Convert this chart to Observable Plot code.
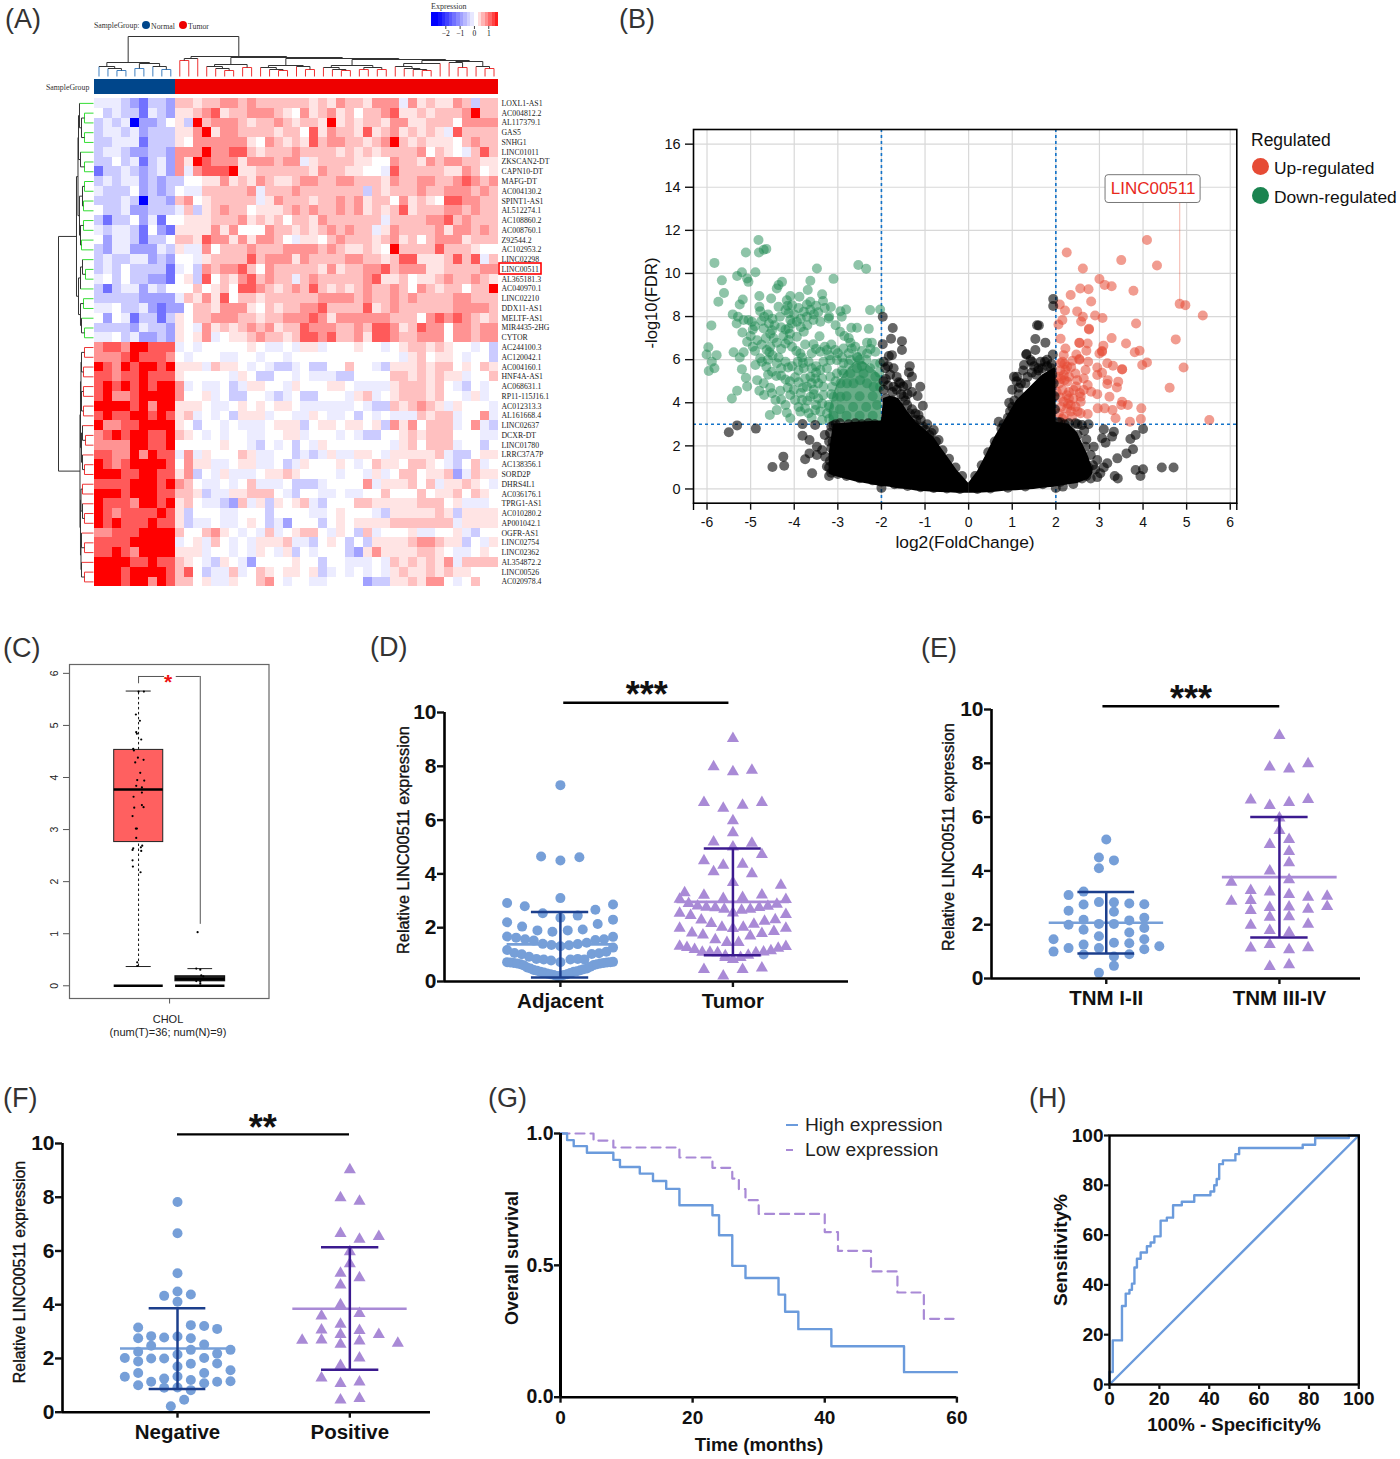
<!DOCTYPE html>
<html><head><meta charset="utf-8">
<script src="https://cdn.jsdelivr.net/npm/d3@7"></script>
<script src="https://cdn.jsdelivr.net/npm/@observablehq/plot@0.6"></script>
<style>
html,body{margin:0;padding:0;background:#fff}
#root{position:relative;width:1400px;height:1459px;background:#fff;overflow:hidden;font-family:"Liberation Sans",Arial,sans-serif;color:#111}
.lb{position:absolute;white-space:nowrap;line-height:1}
svg{display:block}
</style></head><body><div id="root"></div>
<script>
// ---------- (A) heatmap ----------
const rowNames=["LOXL1-AS1","AC004812.2","AL117379.1","GAS5","SNHG1","LINC01011","ZKSCAN2-DT","CAPN10-DT","MAFG-DT","AC004130.2","SPINT1-AS1","AL512274.1","AC108860.2","AC008760.1","Z92544.2","AC102953.2","LINC02298","LINC00511","AL365181.3","AC040970.1","LINC02210","DDX11-AS1","MELTF-AS1","MIR4435-2HG","CYTOR","AC244100.3","AC120042.1","AC004160.1","HNF4A-AS1","AC068631.1","RP11-115J16.1","AC012313.3","AL161668.4","LINC02637","DCXR-DT","LINC01780","LRRC37A7P","AC138356.1","SORD2P","DHRS4L1","AC036176.1","TPRG1-AS1","AC010280.2","AP001042.1","OGFR-AS1","LINC02754","LINC02362","AL354872.2","LINC00526","AC020978.4"];
const heatLevels={"0":-2.7,"1":-1.5,"2":-1.0,"3":-0.55,"4":-0.2,"5":0,"6":0.18,"7":0.42,"8":0.72,"9":1.1,"x":1.7};
const normalCells=["444321332","534331432","343402235","344342333","334441333","344322332","335341342","133432342","343442323","433352323","333430332","533422333","313352415","434431521","524431335","324422243","343344232","343533331","453533221","313442435","333332222","445334212","525413313","333324332","445342232","8998xx999","8889x9998","x98x9xx9x","99899x999","9x9x9x9xx","9x889xxxx","xxxx9x8xx","9x99xx9x9","x8899xxxx","89x9xx99x","8888xx99x","9988x8x99","x989xxxx9","xxx99xx99","9999xxx9x","xxx9xxx99","x9998xx9x","x989999x9","x9x999x99","88999xxxx","9999xxxxx","99x98xxxx","xxxx99x99","xxx9xxxx9","xxx9xx8x9"];
const tumorCells=[
"776778 878777 777676 877688 848676 687377",
"667896 778887 658678 675778 966767 778x77",
"63x788 876778 76776x 676776 886677 758888",
"668x68 877776 775968 776967 867676 497777",
"658888 886587 676978 877678 x76766 657877",
"888x88 997677 787777 676767 777857 654797",
"86x988 868887 884677 776655 877687 887766",
"848999 x66777 777687 766554 977777 668756",
"355668 676876 678877 887776 877887 789878",
"544777 778477 787777 777376 777877 888787",
"785677 777468 777677 878677 586765 998877",
"473678 775666 787877 878676 796777 887877",
"566677 786767 577687 777774 777788 978777",
"666686 855587 767678 787746 877778 688787",
"776988 686887 546657 877767 867578 886777",
"644857 778777 888878 766765 x77779 777655",
"554677 779788 868777 788776 799666 797947",
"453878 897587 777768 677889 788866 777788",
"563957 689787 747877 777896 675667 877876",
"557567 599876 787976 767877 875876 77577x",
"476869 577677 777788 887877 878777 788777",
"257768 886576 778897 777967 877777 788887",
"657788 877677 888986 888888 777589 898767",
"654867 678786 779888 778799 867988 588788",
"656845 667877 679989 778699 877888 588788",
"454555 556544 546645 556554 567767 655453",
"545554 455455 455555 555555 546756 654553",
"666476 654543 345335 575543 666767 756576",
"655555 465335 545444 335555 776767 664557",
"845445 346655 465556 654444 677767 543545",
"855645 335543 453355 546745 677767 554645",
"666544 565656 654444 445433 767876 465554",
"674545 366645 544654 453545 444767 745584",
"653554 544456 663566 566563 868577 745843",
"765454 554455 664555 454335 567677 755544",
"555556 554354 535465 555555 467577 745535",
"484655 576445 534346 446654 666667 433566",
"586644 566445 346555 654576 657765 435745",
"683546 444566 765555 455464 577566 724766",
"875445 457444 533345 555846 667574 667654",
"776344 667775 435544 544557 555756 675765",
"675443 274636 567435 557766 666777 564445",
"635554 455535 555445 655543 666667 636666",
"634454 456534 255535 656666 777777 746666",
"755786 545474 567754 653745 556445 564355",
"456475 454666 744356 535366 667887 663546",
"666455 454654 635455 532686 666776 544565",
"765436 542555 565535 544454 767676 847777",
"795344 745765 665634 545454 676676 766555",
"775644 655785 455445 555233 667688 545755"];
const sampleGroups=[...Array(9).fill("Normal"),...Array(36).fill("Tumor")];
const legendValues=[-3,-2.75,-2.5,-2.25,-2,-1.75,-1.5,-1.25,-1,-0.75,-0.5,-0.25,0,0.25,0.5,0.75,1,1.25,1.5];
const treeLeftNormal=[14,[10,0,[8,1,[6,2,3]]],[13,[8,4,5],[10,6,[7,7,8]]]];
const treeL1=[12,[10,12,[8,13,[6,14,15]]],[9,16,17]];
const treeL2=[11,[9,18,[7,19,[6,20,21]]],[10,22,[7,23,24]]];
const treeL3=[11,[9,25,[7,26,[6,27,28]]],[9,[7,29,30],[7,31,32]]];
const treeL4=[13,[10,33,[8,34,[7,35,[6,36,37]]]],38];
const treeL5=[15,[14,39,[9,40,41]],[10,42,[8,43,44]]];
const treeTumor=[20,[18,[16,9,10],11],[19,treeL1,[18,treeL2,[17,treeL3,[16,treeL4,treeL5]]]]];
const treeColumns=[40,treeLeftNormal,treeTumor];
const treeRowsTop=[17,[15.5,[15,[14,0,[12,[9,1,2],[9,3,4]]],[13,5,[9,6,7]]],[14,[11,[9,8,9],[10,10,11]],[13,[10,12,13],[12,14,15]]]],[15,[13,[11,16,[8,17,18]],19],[13,[10,20,21],[12,22,[9,23,24]]]]];
const treeRowsBottom=[13.5,[13,[12.5,[12,[9,25,26],[10,27,28]],[12,[10,29,30],[10,31,32]]],[12,[11,33,[8,34,35]],[11,36,[9,37,38]]]],[13,[12.5,[11,39,40],[11,41,[9,42,43]]],[12.5,[12,44,[9,45,46]],[12,47,[9,48,49]]]]];
const treeRows=[35,treeRowsTop,treeRowsBottom];

// ---------- (B) volcano ----------
const downRegulated=[[-5.83,10.49],[-5.66,9.68],[-5.61,9.09],[-5.74,8.69],[-5.9,7.59],[-5.97,6.58],[-6.01,6.24],[-5.78,6.21],[-5.89,5.9],[-5.83,5.6],[-5.96,5.47],[-4.82,11.55],[-4.81,10.97],[-4.64,11.14],[-4.7,11.1],[-5.11,10.97],[-5.2,10.06],[-4.89,10.06],[-5.31,9.88],[-5.08,9.77],[-5.05,9.61],[-5.18,8.79],[-5.25,8.56],[-5.41,8.1],[-5.29,7.99],[-5.32,7.68],[-5.16,7.84],[-5.05,7.84],[-4.97,7.76],[-5.19,7.26],[-5.39,6.34],[-5.16,6.34],[-5.25,6.1],[-5.08,6.83],[-5.2,5.56],[-5.11,5.16],[-5.08,4.76],[-5.31,4.56],[-5.43,4.2],[-4.8,8.95],[-4.8,8.45],[-4.78,8.25],[-4.53,8.84],[-4.4,9.3],[-4.28,9.61],[-4.36,9.46],[-4.69,7.99],[-4.36,8.45],[-4.17,8.76],[-4.09,8.95],[-3.88,8.92],[-3.63,9.66],[-3.69,9.23],[-3.48,10.23],[-3.1,9.75],[-3.36,9.03],[-3.34,8.72],[-3.63,8.69],[-3.71,8.56],[-4.05,8.53],[-3.16,8.44],[-2.94,8.25],[-2.81,8.33],[-2.91,7.99],[-2.26,8.3],[-2.03,8.33],[-2.53,10.39],[-2.35,10.22],[-2.29,7.43],[-2.56,7.48],[-2.69,7.48],[-3.63,8.3],[-3.56,7.84],[-3.4,7.76],[-3.21,7.91],[-4.13,8.15],[-4.09,7.84],[-3.78,8.22],[-3.71,7.99],[-4.2,7.4],[-4.13,7.45],[-4.05,7.68],[-3.94,7.76],[-3.78,7.3],[-3.94,7.06],[-4.13,6.91],[-4.33,7.99],[-4.58,7.68],[-4.7,7.45],[-4.51,7.37],[-4.47,6.99],[-4.4,6.79],[-4.63,6.45],[-4.57,6.34],[-4.78,6.06],[-4.74,5.9],[-4.89,5.75],[-4.64,5.67],[-4.51,5.44],[-4.36,6.1],[-4.4,5.83],[-4.41,5.24],[-4.2,5.08],[-4.14,5.64],[-3.98,5.18],[-4.09,4.36],[-4.01,4.59],[-4.32,4.56],[-4.51,4.44],[-4.69,4.36],[-4.8,4.56],[-4.85,5.05],[-4.43,4.13],[-4.56,3.43],[-4.4,3.66],[-4.17,3.54],[-4.09,3.28],[-3.86,3.59],[-3.67,3.51],[-3.52,3.66],[-3.36,3.2],[-3.86,6.29],[-3.82,6.1],[-3.92,5.9],[-3.78,5.6],[-3.67,5.9],[-3.75,5.13],[-3.63,5.21],[-3.71,4.74],[-3.52,5.13],[-3.98,4.13],[-3.82,4.13],[-3.63,4.28],[-3.42,7.09],[-3.56,6.72],[-3.4,6.37],[-3.25,6.45],[-3.06,6.45],[-2.87,6.52],[-2.71,6.79],[-2.68,6.52],[-2.33,6.79],[-2.22,6.79],[-2.33,6.29],[-2.14,6.37],[-2.56,6.14],[-2.03,5.83],[-3.4,5.52],[-3.25,5.6],[-3.36,5.13],[-3.17,5.21],[-3.33,4.74],[-3.13,4.74],[-3.02,5.98],[-3.17,5.98],[-3.33,5.9],[-2.87,5.83],[-2.71,5.98],[-2.56,5.6],[-3.02,5.36],[-2.87,5.36],[-2.71,5.36],[-2.41,5.36],[-2.26,5.6],[-2.14,5.21],[-2.94,4.9],[-2.79,4.9],[-2.64,4.9],[-2.49,5.05],[-2.33,4.9],[-2.18,4.74],[-2.03,4.74],[-3.36,3.97],[-3.21,3.9],[-3.33,4.36],[-3.1,4.28],[-2.94,4.28],[-2.5,6.0],[-2.45,5.7],[-3.5,5.7],[-3.2,6.2],[-2.9,6.1],[-3.45,4.9],[-3.55,4.6],[-3.25,3.5],
[-4.6,8.1],[-4.5,7.9],[-4.55,7.2],[-4.45,7.6],[-4.3,7.5],[-4.25,7.1],[-4.2,8.3],[-4.15,8.5],[-4.1,7.2],[-4.0,8.1],[-3.9,8.4],[-3.85,7.9],[-3.85,7.5],[-3.7,7.6],[-3.55,8.1],[-3.5,8.5],[-3.45,8.2],[-3.3,8.4],[-3.2,8.0],[-3.05,7.6],[-2.95,7.3],[-2.85,7.1],[-2.75,7.0],[-4.65,7.0],[-4.75,6.7],[-4.55,6.6],[-4.3,6.5],[-4.2,6.75],[-4.05,6.6],[-3.95,6.4],[-3.75,6.7],[-3.6,6.3],[-3.5,6.5],[-3.3,6.6],[-3.15,6.7],[-3,6.3],[-2.75,6.3],[-2.6,6.6],[-2.45,6.4],[-2.25,6.5],[-4.6,6.0],[-4.5,6.2],[-4.3,5.6],[-4.2,5.9],[-4.05,5.7],[-3.9,5.5],[-3.8,5.85],[-3.6,5.6],[-3.5,5.4],[-4.6,5.3],[-4.3,5.25],[-4.1,5.0],[-3.9,4.95],[-3.8,4.7],[-3.6,4.9],[-3.55,4.4],[-3.85,4.45],[-4.15,4.7],[-3.7,4.1],[-3.45,4.2],[-3.5,3.9],[-3.9,3.8],[-4.2,3.9],[-4.3,4.15],[-3.75,3.75],[-3.4,3.6],[-3.6,3.3],[-3.2,3.25],[-4.55,4.7],[-4.7,4.9],[-4.95,6.6],[-4.9,6.4],[-4.85,6.9],[-4.75,7.8],[-4.95,7.4],[-5.0,7.1],[-4.9,7.55],
[-3.15,4.4],[-3.05,5.0],[-2.9,5.5],[-2.75,5.8],[-2.55,6.1],[-2.35,6.0],[-2.15,5.8],[-2.05,5.4],[-3.2,3.8],[-3.1,3.4],[-2.8,3.4],[-2.5,3.4],[-2.2,3.4],[-2.95,3.7],[-2.65,3.8],[-2.35,3.8],[-2.1,3.9],[-2.8,4.3],[-2.5,4.3],[-2.2,4.3]];
const upRegulated=[[4.09,11.55],[2.25,10.97],[3.5,10.62],[4.32,10.37],[2.62,10.23],[3.0,9.74],[3.12,9.47],[3.28,9.41],[2.56,9.3],[2.75,9.27],[3.78,9.2],[2.34,9.0],[2.81,8.7],[2.09,8.56],[4.84,8.59],[4.97,8.53],[2.21,8.28],[2.49,8.24],[2.62,7.99],[2.9,8.05],[3.07,7.93],[5.37,8.05],[2.15,7.84],[2.58,7.77],[2.06,7.63],[3.84,7.68],[2.76,7.43],[2.76,7.4],[2.11,6.97],[3.28,7.0],[4.75,6.94],[2.54,6.79],[2.54,6.77],[2.73,6.75],[3.61,6.75],[3.09,6.65],[2.22,6.52],[2.7,6.41],[3.06,6.37],[3.06,6.4],[3.81,6.34],[3.92,6.41],[2.47,6.24],[3.0,6.29],[2.54,6.03],[2.54,6.0],[2.18,6.21],[2.74,5.9],[4.09,5.87],[3.98,5.75],[3.18,5.83],[3.31,5.72],[3.52,5.56],[3.52,5.54],[4.93,5.64],[2.68,5.52],[2.95,5.64],[3.06,5.39],[2.95,5.29],[2.11,5.83],[2.22,5.52],[2.07,5.21],[2.26,4.98],[2.49,5.05],[2.64,5.13],[2.73,4.82],[3.19,5.05],[3.18,4.87],[3.43,4.98],[3.4,4.71],[4.61,4.7],[2.02,4.51],[2.95,4.4],[2.81,4.51],[3.23,4.28],[2.57,4.28],[2.3,4.2],[2.18,4.05],[2.34,3.9],[2.57,4.05],[3.52,4.05],[3.5,3.9],[3.65,3.9],[3.96,3.74],[3.12,3.74],[2.96,3.74],[3.3,3.66],[3.37,3.28],[2.73,3.48],[2.57,3.51],[2.07,3.51],[2.18,3.35],[2.37,3.35],[3.7,3.12],[3.95,3.25],[5.52,3.2],[2.3,5.21],[2.45,5.36],[2.15,4.59],[2.41,4.59],[2.64,4.59],[2.26,3.74],[2.45,3.82],[2.15,5.9],[2.26,5.67],[2.18,5.29],[2.1,5.5],[2.2,5.8],[2.12,5.1],[2.3,4.5],[2.4,4.2],[2.25,4.35],[2.5,3.6],[2.35,3.6],[2.12,3.8],[2.15,3.25],[2.55,4.45],[2.08,4.9],[2.2,5.05],[2.35,5.65],[2.1,4.25],[2.28,3.95],[2.46,4.75],[2.38,5.95]];
const notSignificant=[[-5.5,2.63],[-5.31,2.95],[-4.88,2.8],[-4.5,1.02],[-4.25,1.5],[-4.23,1.08],[-3.81,3.01],[-3.81,2.47],[-3.65,2.27],[-3.59,.73],[-3.75,1.38],[-3.65,1.65],[-3.52,2.97],[-3.48,1.96],[-3.48,1.58],[-3.3,2.5],[-3.36,1.8],[-3.2,.6],[-3.29,1.5],[-3.25,1.04],[-3.15,2.9],[-3.2,2.2],[-3.18,1.3],
[-1.97,7.99],[-1.74,7.47],[-1.97,6.72],[-1.78,6.97],[-1.53,6.86],[-1.53,6.45],[-1.83,6.17],[-1.76,6.21],[-1.91,5.6],[-1.72,5.6],[-1.35,5.7],[-1.37,5.41],[-1.3,5.21],[-1.11,4.74],[-1.17,4.31],[-1.05,3.86],[-1.57,4.9],[-1.41,4.82],[-1.72,4.74],[-1.49,4.28],[-1.41,3.9],[-1.72,3.74],[-1.22,3.5],[-1.15,3.43],[.69,3.12],[-.8,2.74],[-.69,2.27],[-1.9,5.1],[-1.8,5.3],[-1.95,5.9],[-1.6,4.95],[-1.5,4.75],[-1.3,3.7],[-1.1,3.2],[-.95,3.0],
[1.94,8.81],[1.94,8.49],[1.61,7.59],[1.53,6.96],[1.76,6.79],[1.53,6.45],[1.93,6.24],[1.33,6.26],[1.42,5.98],[1.27,5.75],[1.04,5.21],[1.69,5.6],[1.32,6.24],[1.11,5.21],[1.57,7.6],[1.9,5.6],[1.8,5.7],[1.5,5.7],[1.6,5.5],[1.15,4.7],[1.0,4.6],[.93,4.0],
[2.6,2.97],[2.34,2.66],[3.1,2.77],[3.33,2.66],[3.29,2.43],[3.06,2.35],[3.14,2.15],[4.0,2.78],[3.83,2.5],[3.71,2.32],[3.77,1.84],[3.62,1.65],[3.41,1.42],[3.18,1.19],[2.95,1.34],[2.87,1.96],[2.68,1.96],[2.8,1.58],[3.83,.88],[4,.91],[3.94,.6],[4.43,1.0],[4.7,1.0],[3.35,.6],[3.42,.49],[3.02,.73],[2.8,.49],[2.6,.49],[2.4,.23],[2.16,.11],[2.75,3.0],[2.5,3.0],[2.3,3.05],[2.1,3.1],
[-3.0,.7],[-2.8,.6],[-2.5,.5],[-2.2,.4],[-2,.33],[-1.7,.22],[-1.4,.14],[-1.1,.08],[-.8,.05],[-.5,.02],[-.2,0],[.2,0],[.5,.02],[.9,.06],[1.3,.12],[1.7,.22],[2.1,.32],[2.4,.5],[2.7,.6],[-2,.05],[2.0,.05],
[-.9,2.5],[-.75,2.2],[-.6,1.8],[-.45,1.4],[-.3,1.0],[-.15,.6],[.15,.6],[.3,1.1],[.45,1.7],[.6,2.2],[.75,2.8],[.9,3.3],[1.0,3.8],[1.15,4.4],[1.3,4.9],[1.45,5.4],[1.6,5.6],[1.75,5.9],[1.9,5.8],[-3.05,3.0],[-2.75,3.0],[-2.45,3.0],[-2.15,3.0],
[-3.18,2.6],[-3.15,1.9],[-3.2,1.0],[-3.15,.75],[-3.12,2.2],[-3.1,2.95],[-2.95,3.05],[-2.6,3.05],[-2.3,3.05],[-1.95,3.0],[-1.95,4.6],[-1.85,4.8],[-1.75,4.5],[-1.65,4.6],[-1.55,4.4],[-1.45,4.1],[-1.35,3.5],[-1.2,3.2],[-1.75,4.1],[-1.6,3.8],[-1.9,4.2],[-1.3,4.5],[-1.05,2.9],[-1.25,3.0],[-1.0,2.75],[-.85,2.6],[-1.85,5.7],[-1.95,5.0],[-1.65,5.2],[-1.4,4.4],[.8,3.0],[.95,3.6],[1.05,4.1],[1.2,4.9],[1.1,5.0],[1.35,5.2],[1.55,5.3],[1.65,5.9],[1.8,6.0],[1.92,5.3],[1.95,4.9],[1.97,4.3],[1.98,3.7],[1.25,5.5],[1.45,5.9],[2.05,3.1],[2.2,3.0],[2.45,3.05],[2.65,2.7],[2.5,2.5],[2.35,2.3],[2.7,2.3],[2.45,1.9],[2.6,1.6],[2.55,1.2],[2.75,1.0],[2.9,.9],[2.85,1.1],[2.65,.75],[3.1,1.0],[2.95,.55]];
const massLeft=[[-3.2,1.6,.7],[-3.1,3.0,.6],[-2.6,3.1,.34],[-2,3.15,.12],[-1.95,4.2,.12],[-1.8,4.3,.08],[-1.6,4.2,0],[-1.4,3.6,-.03],[-1.2,3.1,-.1],[-1.03,2.8,-.12],[-.8,2.4,-.15],[-.65,1.96,-.16],[-.45,1.4,-.18],[-.27,.88,-.2],[0,.26,-.2]];
const massRight=[[0,.26,-.2],[.2,.8,-.2],[.42,1.65,-.18],[.6,2.4,-.15],[.88,3.35,-.1],[1.1,4.1,-.08],[1.3,4.5,-.05],[1.5,4.9,-.03],[1.7,5.3,.03],[1.95,5.6,.08],[2.0,5.6,.1],[2.01,3.1,.1],[2.3,3.0,.2],[2.5,2.6,.25],[2.75,1.5,.45],[2.85,.9,.7]];
const massDown=[[-3.2,3.6],[-3.1,4.4],[-3,4.9],[-2.8,5.5],[-2.6,5.9],[-2.4,5.9],[-2.2,5.6],[-2,5.2]];
const volcanoTicksX=[-6,-5,-4,-3,-2,-1,0,1,2,3,4,5,6];
const volcanoTicksY=[0,2,4,6,8,10,12,14,16];

// ---------- (C) box plot ----------
const boxTumorDots=[[412,5.65],[428,5.65],[404,5.21],[416,5.09],[405,4.87],[407,4.84],[420,4.73],[396,4.55],[398,4.52],[410,4.38],[427,4.34],[402,4.29],[417,4.09],[408,3.95],[429,3.94],[405,3.84],[422,3.81],[422,3.71],[397,3.63],[422,3.47],[399,3.42],[427,3.43],[394,3.26],[404,3.02],[407,3.02],[405,2.84],[423,2.69],[419,2.66],[396,2.64],[394,2.61],[420,2.59],[394,2.41],[395,2.29],[418,2.18],[408,.45],[408,.38]];
const boxNormalDots=[[589,1.03],[585,.33],[597,.31],[600,.2],[606,.18],[585,.09],[597,.08],[597,.04]];

// ---------- (D) (E) (F) scatter ----------
const adjacentPts=[[540,7.3],[482,4.65],[540,4.5],[597,4.62],[540,3.1],[380,2.92],[433,2.8],[487,2.54],[540,2.37],[592,2.45],[645,2.67],[698,2.86],[380,2.2],[425,2.04],[471,1.9],[516,1.85],[562,1.9],[607,1.93],[652,2.14],[698,2.3],[380,1.67],[407,1.63],[434,1.57],[460,1.52],[487,1.4],[513,1.36],[540,1.31],[566,1.35],[592,1.39],[619,1.44],[645,1.54],[671,1.57],[698,1.66],[380,1.17],[402,1.06],[424,1.01],[446,.92],[468,.84],[490,.82],[512,.78],[540,.72],[570,.82],[592,.84],[612,.82],[634,1.02],[656,1.05],[678,1.11],[698,1.26],[380,.72],[400,.69],[420,.64],[440,.52],[460,.43],[480,.36],[500,.3],[520,.24],[540,.2],[560,.27],[580,.36],[600,.42],[620,.48],[640,.61],[660,.67],[680,.71],[698,.73],[390,.71],[410,.67],[430,.6],[450,.48],[470,.4],[490,.33],[510,.27],[530,.2],[550,.24],[570,.32],[590,.38],[610,.46],[630,.55],[650,.64],[670,.69],[690,.72]];
const tumorPts=[[1058,9.03],[1000,7.98],[1058,7.8],[1115,7.85],[971,6.65],[1029,6.44],[1087,6.55],[1145,6.65],[1058,5.98],[1058,5.53],[1000,5.19],[1115,5.14],[1058,5.0],[1145,4.72],[971,4.49],[1029,4.32],[1087,4.36],[1000,4.08],[1115,4.01],[1058,3.68],[1202,3.58],[913,3.3],[971,3.21],[1145,3.22],[898,3.06],[1029,3.09],[1087,3.12],[1217,3.05],[925,2.9],[952,2.81],[978,2.76],[1005,2.74],[1032,2.69],[1058,2.55],[1084,2.65],[1110,2.69],[1137,2.75],[1163,2.8],[1190,2.87],[898,2.54],[931,2.45],[1217,2.49],[963,2.29],[1185,2.3],[993,2.16],[1153,2.24],[1121,2.13],[1025,2.02],[1058,1.97],[1089,2.02],[898,1.98],[1217,1.98],[935,1.8],[968,1.73],[1145,1.78],[1181,1.86],[1005,1.55],[1110,1.69],[1040,1.45],[1075,1.45],[898,1.31],[920,1.26],[943,1.19],[966,1.09],[989,1.09],[1012,1.07],[1035,.96],[1058,.82],[1081,.89],[1104,.98],[1127,1.07],[1150,1.1],[1172,1.14],[1194,1.24],[1217,1.3],[1035,.89],[971,.45],[1087,.45],[1145,.5],[1029,.2]];
const tnmEarlyPts=[[528,5.17],[506,4.5],[551,4.39],[506,4.1],[460,3.23],[415,3.1],[506,2.84],[551,2.83],[597,2.79],[642,2.76],[460,2.75],[415,2.52],[551,2.48],[642,2.26],[460,2.18],[597,2.16],[415,2.0],[506,2.03],[551,2.03],[642,1.88],[460,1.81],[597,1.71],[506,1.57],[370,1.46],[642,1.46],[551,1.33],[597,1.31],[460,1.26],[415,1.13],[506,1.13],[642,1.09],[687,1.2],[370,1.0],[460,.89],[597,.9],[551,.82],[551,.47],[506,.21]];
const tnmLatePts=[[1047,9.03],[1018,7.86],[1076,7.79],[1133,7.98],[961,6.64],[1018,6.43],[1076,6.54],[1133,6.65],[1047,5.97],[1047,5.5],[1018,4.98],[1076,5.17],[1076,4.72],[1076,4.3],[1018,4.0],[1076,3.67],[903,3.58],[961,3.27],[1018,3.22],[1076,3.12],[1133,3.02],[1190,3.06],[903,2.87],[961,2.9],[961,2.53],[1018,2.64],[1076,2.66],[1133,2.57],[1190,2.68],[1018,2.28],[1076,2.3],[961,1.98],[1133,2.02],[1018,1.78],[1076,1.71],[961,1.13],[1018,1.26],[1076,1.07],[1133,1.14],[1018,.45],[1076,.51]];
const negativePts=[[531,7.82],[531,6.66],[531,5.17],[531,4.49],[571,4.38],[491,4.33],[531,4.11],[413,3.15],[571,3.24],[611,3.21],[650,3.1],[413,2.75],[452,2.83],[491,2.78],[531,2.82],[571,2.75],[452,2.47],[611,2.52],[571,2.32],[690,2.32],[413,2.25],[650,2.18],[531,2.15],[373,2.02],[452,2.0],[491,2.0],[611,2.02],[413,1.89],[571,1.8],[650,1.81],[531,1.7],[690,1.56],[413,1.46],[611,1.46],[373,1.32],[531,1.33],[491,1.25],[571,1.2],[452,1.13],[611,1.08],[650,1.13],[690,1.15],[413,1.0],[491,.91],[531,.92],[571,.82],[551,.46],[511,.22]];
const positivePts=[[1048,9.02],[1020,7.98],[1077,7.85],[1020,6.65],[1077,6.44],[1135,6.54],[1048,5.97],[1048,5.52],[1020,5.17],[1077,5.0],[1020,4.73],[1020,4.0],[1077,3.67],[963,3.58],[1020,3.27],[963,3.06],[1077,3.04],[1020,2.89],[1135,2.89],[905,2.68],[963,2.69],[1077,2.65],[1020,2.53],[1192,2.57],[1077,2.02],[1020,1.74],[963,1.27],[1020,1.07],[1077,1.12],[1020,.45],[1077,.51]];

// ---------- (G) survival ----------
const highTime=[0,1,2,4,8,9,12,14,16,18,23,24,26,28,33,34,36,41,52,60];
const highSurv=[1,.975,.952,.927,.9,.873,.848,.82,.79,.728,.69,.614,.498,.452,.389,.324,.258,.193,.095,.095];
const lowTime=[0,5,8,18,23,26,27,28,30,40,42,47,51,55,59.5];
const lowSurv=[1,.973,.947,.909,.87,.829,.789,.747,.695,.626,.555,.477,.397,.297,.297];

// ---------- (H) ROC ----------
const rocX=[0,0,1.3,5,6.5,8,9,10,11,12.5,15,16.5,18,20.5,23,25.5,29,34,40.5,42,43,44,45.5,50.5,52,77.5,82.5,96,100];
const rocY=[0,5,17.7,31.5,36.5,38,40.5,47,50.5,53,55.5,57,59.5,65.8,67,72,73.4,76,77.5,80,82.5,88.5,90,92.5,95,96.3,99,100,100];

// ---------- helpers ----------
const root=document.getElementById("root");
const SANS="Liberation Sans", SERIF="Liberation Serif";
function mount(n,x,y){n.style.position="absolute";n.style.left=x+"px";n.style.top=y+"px";root.append(n);}
function label(t,x,y,o={}){const d=document.createElement("div");d.className="lb";d.textContent=t;
  const {rotate,anchor="start",size=12,weight="normal",family=SANS,color="#111",stroke}=o;
  d.style.left=x+"px";d.style.top=y+"px";d.style.fontSize=size+"px";d.style.fontWeight=weight;d.style.fontFamily=family;d.style.color=color;
  if(stroke)d.style.webkitTextStroke=stroke+"px "+color;
  const tx=anchor==="middle"?"-50%":anchor==="end"?"-100%":"0";
  d.style.transform=`translate(${tx},-50%)`+(rotate?` rotate(${rotate}deg)`:"");root.append(d);}
function disc(x,y,r,c){const d=document.createElement("div");d.style.cssText=`position:absolute;left:${x-r}px;top:${y-r}px;width:${2*r}px;height:${2*r}px;border-radius:50%;background:${c}`;root.append(d);}
function bar(x,y,w,h,c){const d=document.createElement("div");d.style.cssText=`position:absolute;left:${x}px;top:${y}px;width:${w}px;height:${h}px;background:${c}`;root.append(d);}
function panel({L,R,T,B,ml=60,mr=20,mt=40,mb=50,x,y,color,marks}){
  const p=Plot.plot({width:R-L+ml+mr,height:B-T+mt+mb,marginLeft:ml,marginRight:mr,marginTop:mt,marginBottom:mb,
    x:{axis:null,...x},y:{axis:null,...y},color,style:{background:"none",overflow:"visible",fontFamily:SANS},marks});
  mount(p,L-ml,T-mt);
}
function dendro(tree,leafColor,dark="#333"){const segs=[];
  function walk(n){ if(typeof n==="number") return {p:n+.5,h:0,leaf:n};
    const a=walk(n[1]),b=walk(n[2]),h=n[0];
    segs.push({p1:a.p,p2:a.p,h1:a.h,h2:h,c:a.leaf!==undefined?leafColor(a.leaf):dark});
    segs.push({p1:b.p,p2:b.p,h1:b.h,h2:h,c:b.leaf!==undefined?leafColor(b.leaf):dark});
    segs.push({p1:a.p,p2:b.p,h1:h,h2:h,c:(a.leaf!==undefined&&b.leaf!==undefined)?leafColor(a.leaf):dark});
    return {p:(a.p+b.p)/2,h};}
  walk(tree);return segs;}

const heatColor={type:"linear",domain:[-2.7,0,1.7],range:["#0000ff","#ffffff","#ff0000"],clamp:true};

// ========= A =========
const heatCells=rowNames.flatMap((r,i)=>{const s=(normalCells[i]+tumorCells[i]).replace(/ /g,"");
  return d3.range(45).map(c=>({c,r,v:heatLevels[s[c]??"5"]}));});
panel({L:94,R:498,T:97.7,B:586,ml:10,mr:70,mt:5,mb:5,
  x:{type:"band",domain:d3.range(45),padding:0,round:false},
  y:{type:"band",domain:rowNames,padding:0,round:false},
  color:heatColor,
  marks:[Plot.cell(heatCells,{x:"c",y:"r",fill:"v",shapeRendering:"crispEdges"}),
    Plot.axisY({anchor:"right",tickSize:0,tickPadding:3,fontSize:7.8,fontFamily:SERIF,color:"#222",label:null})]});
panel({L:94,R:498,T:78.5,B:93.5,ml:5,mr:5,mt:2,mb:2,
  x:{type:"band",domain:d3.range(45),padding:0,round:false},
  color:{domain:["Normal","Tumor"],range:["#00468b","#ee0000"]},
  marks:[Plot.cell(sampleGroups,{x:(d,i)=>i,fill:d=>d,shapeRendering:"crispEdges"})]});
panel({L:94,R:498,T:36,B:76,ml:5,mr:5,mt:2,mb:2,x:{domain:[0,45]},y:{domain:[0,40]},
  marks:[Plot.link(dendro(treeColumns,c=>c<9?"#3f7fbf":"#ee3333"),{x1:"p1",x2:"p2",y1:"h1",y2:"h2",stroke:"c",strokeWidth:1})]});
panel({L:58,R:93,T:97.7,B:586,ml:5,mr:2,mt:2,mb:2,x:{domain:[35,0]},y:{domain:[50,0]},
  marks:[Plot.link(dendro(treeRows,r=>r<25?"#33dd33":"#ee3333"),{x1:"h1",x2:"h2",y1:"p1",y2:"p2",stroke:"c",strokeWidth:1})]});
panel({L:431,R:498,T:12,B:26,ml:5,mr:5,mt:5,mb:16,x:{domain:[-3,1.68]},y:{domain:[0,1]},color:heatColor,
  marks:[Plot.rect(legendValues,{x1:d=>d,x2:d=>Math.min(d+.25,1.68),y1:0,y2:1,fill:d=>d,shapeRendering:"crispEdges"}),
    Plot.axisX({ticks:[-2,-1,0,1],tickSize:3,tickPadding:1,fontSize:7.5,fontFamily:SERIF,label:null,stroke:"#444",tickFormat:d3.format("d")})]});
panel({L:499,R:541,T:263,B:274,ml:2,mr:2,mt:2,mb:2,x:{domain:[0,1]},y:{domain:[0,1]},
  marks:[Plot.rect([0],{x1:0,x2:1,y1:0,y2:1,fill:"none",stroke:"#ff0000",strokeWidth:1.6})]});
label("Expression",431,7,{size:8,family:SERIF,color:"#333"});
label("SampleGroup:",94,26,{size:7.8,family:SERIF,color:"#333"});
disc(146,25,4,"#00468b");label("Normal",151,26.5,{size:7.8,family:SERIF,color:"#333"});
disc(183,25,4,"#ee0000");label("Tumor",188,26.5,{size:7.8,family:SERIF,color:"#333"});
label("SampleGroup",46,87.5,{size:7.8,family:SERIF,color:"#333"});

// ========= B =========
const vx=d=>d[0],vy=d=>d[1];
panel({L:692.7,R:1236,T:129.3,B:503,ml:60,mr:10,mt:5,mb:50,
  x:{domain:[-6.31,6.15]},y:{domain:[-.66,16.68]},
  marks:[
    Plot.gridX({ticks:volcanoTicksX,stroke:"#d8d8d8",strokeOpacity:1,strokeWidth:1.2}),
    Plot.gridY({ticks:volcanoTicksY,stroke:"#d8d8d8",strokeOpacity:1,strokeWidth:1.2}),
    Plot.ruleX([-2,2],{stroke:"#1273c9",strokeWidth:1.6,strokeDasharray:"3,3"}),
    Plot.ruleY([3],{stroke:"#1273c9",strokeWidth:1.6,strokeDasharray:"3,3"}),
    Plot.areaY(massDown,{x:d=>d[0],y1:3.1,y2:d=>d[1],fill:"#2a8a55",fillOpacity:.7}),
    Plot.dot(downRegulated,{x:vx,y:vy,r:5,fill:"#1d8a52",fillOpacity:.5}),
    Plot.dot(upRegulated,{x:vx,y:vy,r:5,fill:"#e64b35",fillOpacity:.55}),
    Plot.areaY(massLeft,{x:d=>d[0],y1:d=>d[2],y2:d=>d[1],fill:"black"}),
    Plot.areaY(massRight,{x:d=>d[0],y1:d=>d[2],y2:d=>d[1],fill:"black"}),
    Plot.dot(notSignificant,{x:vx,y:vy,r:5,fill:"black",fillOpacity:.6}),
    Plot.ruleX([4.84],{y1:8.7,y2:13.27,stroke:"#e64b35",strokeOpacity:.35,strokeWidth:1.2}),
    Plot.rect([0],{x1:3.14,x2:5.32,y1:13.27,y2:14.56,fill:"white",stroke:"#777",rx:3,strokeWidth:1}),
    Plot.text(["LINC00511"],{x:4.23,y:13.92,fontSize:17,fill:"#e8291c",fontFamily:SANS}),
    Plot.frame({stroke:"black",strokeWidth:1.6}),
    Plot.axisX({ticks:volcanoTicksX,tickSize:7,tickPadding:7,fontSize:14,tickFormat:d=>String(d),label:null,color:"#111",strokeWidth:1.4}),
    Plot.axisY({ticks:volcanoTicksY,tickSize:8,tickPadding:5,fontSize:14.5,tickFormat:d=>String(d),label:null,color:"#111",strokeWidth:1.4}),
    Plot.ruleX([-6.31,6.15],{y1:-.66,y2:-1.0,stroke:"black",strokeWidth:1.4})
  ]});
label("-log10(FDR)",651,303,{size:16.5,rotate:-90,anchor:"middle",color:"#111"});
label("log2(FoldChange)",965,543,{size:17.4,anchor:"middle"});
label("Regulated",1251,141,{size:17.5});
disc(1260,166,8.5,"#e64b35");label("Up-regulated",1274,169,{size:17.4});
disc(1260,195,8.5,"#1b8450");label("Down-regulated",1274,198,{size:17.4});

// ========= C =========
panel({L:68.5,R:268,T:664,B:998,ml:30,mr:5,mt:5,mb:45,
  x:{domain:[205,803]},y:{domain:[-.244,6.17]},
  marks:[
    Plot.rect([0],{x1:339,x2:486,y1:2.76,y2:4.53,fill:"#ff6060",stroke:"#222",strokeWidth:1}),
    Plot.ruleX([412],{y1:4.53,y2:5.66,stroke:"#111",strokeDasharray:"2.5,2.5",strokeWidth:1}),
    Plot.ruleX([412],{y1:.37,y2:2.76,stroke:"#111",strokeDasharray:"2.5,2.5",strokeWidth:1}),
    Plot.ruleY([5.66],{x1:375,x2:450,stroke:"#222",strokeWidth:1}),
    Plot.ruleY([.37],{x1:375,x2:450,stroke:"#222",strokeWidth:1}),
    Plot.ruleY([3.77],{x1:339,x2:486,stroke:"black",strokeWidth:2.4}),
    Plot.ruleY([0],{x1:339,x2:486,stroke:"black",strokeWidth:2.4}),
    Plot.rect([0],{x1:523,x2:671,y1:.09,y2:.18,fill:"#333",stroke:"#111",strokeWidth:1.4}),
    Plot.ruleY([.135],{x1:523,x2:671,stroke:"black",strokeWidth:2.4}),
    Plot.ruleY([0],{x1:523,x2:671,stroke:"black",strokeWidth:2.4}),
    Plot.ruleY([.33],{x1:560,x2:634,stroke:"#222",strokeWidth:1}),
    Plot.dot(boxTumorDots,{x:vx,y:vy,r:1.1,fill:"black"}),
    Plot.dot(boxNormalDots,{x:vx,y:vy,r:1.1,fill:"black"}),
    Plot.ruleX([412],{y1:5.8,y2:5.94,stroke:"#555",strokeWidth:1}),
    Plot.ruleY([5.94],{x1:412,x2:490,stroke:"#555",strokeWidth:1}),
    Plot.ruleY([5.94],{x1:525,x2:597,stroke:"#555",strokeWidth:1}),
    Plot.ruleX([597],{y1:1.18,y2:5.94,stroke:"#555",strokeWidth:1}),
    Plot.frame({stroke:"#666",strokeWidth:1.2}),
    Plot.axisY({ticks:[0,1,2,3,4,5,6],tickSize:6,tickPadding:6,tickRotate:-90,fontSize:10.5,stroke:"#555",label:null,color:"#222",tickFormat:d=>String(d)}),
    Plot.ruleX([505],{y1:-.244,y2:-.35,stroke:"#555"})
  ]});
label("*",168,681,{size:21,weight:"bold",anchor:"middle",color:"#ee1111"});
label("CHOL",168,1019,{size:11,anchor:"middle",color:"#222"});
label("(num(T)=36; num(N)=9)",168,1032,{size:11,anchor:"middle",color:"#222"});

// ========= D E F =========
const BLUE="#769fd8",PURPLE="#a98ad6",NAVY="#1c3f8c",INDIGO="#3b1a8f";
function swarm(s){
  const g=(pts,sym,fill,e,dark)=>[
    Plot.dot(pts,{x:vx,y:vy,r:sym==="circle"?5:4.5,symbol:sym,fill}),
    Plot.ruleY([e.mean],{x1:e.m1,x2:e.m2,stroke:fill,strokeWidth:2.6}),
    Plot.ruleX([e.c],{y1:e.lo,y2:e.up,stroke:dark,strokeWidth:2.5}),
    Plot.ruleY([e.up,e.lo],{x1:e.c1,x2:e.c2,stroke:dark,strokeWidth:2.5})];
  panel({L:s.L,R:s.R,T:s.T,B:s.B,ml:50,mr:5,mt:50,mb:40,
    x:{domain:s.dom},y:{domain:[0,10]},
    marks:[
      ...g(s.a,"circle",BLUE,s.ea,NAVY),...g(s.b,"triangle",PURPLE,s.eb,INDIGO),
      Plot.ruleY([0],{stroke:"black",strokeWidth:2.6}),
      Plot.ruleX([s.dom[0]],{stroke:"black",strokeWidth:2.6}),
      Plot.ruleY([s.barY],{x1:s.bar[0],x2:s.bar[1],stroke:"black",strokeWidth:2.4}),
      Plot.axisX({ticks:s.ticks,tickFormat:d=>s.names[s.ticks.indexOf(d)],tickSize:6,tickPadding:6,fontSize:20.5,fontWeight:"bold",strokeWidth:2.4,label:null,color:"#111"}),
      Plot.axisY({ticks:[0,2,4,6,8,10],tickSize:7,tickPadding:1,fontSize:21,fontWeight:"bold",strokeWidth:2.4,label:null,color:"#111",tickFormat:d=>String(d)})
    ]});
}
const adjacentTicks=[540,1058],tnmTicks=[528,1047],lnTicks=[531,1048];
swarm({L:444,R:848,T:712.3,B:981.3,dom:[192,1405],a:adjacentPts,b:tumorPts,ticks:adjacentTicks,names:["Adjacent","Tumor"],barY:10.36,bar:[550,1046],
  ea:{c:540,mean:1.38,up:2.58,lo:.15,m1:380,m2:698,c1:453,c2:625},eb:{c:1058,mean:2.96,up:4.94,lo:.98,m1:890,m2:1228,c1:972,c2:1143}});
swarm({L:991,R:1360,T:709,B:978,dom:[184,1290],a:tnmEarlyPts,b:tnmLatePts,ticks:tnmTicks,names:["TNM I-II","TNM III-IV"],barY:10.12,bar:[518,1048],
  ea:{c:528,mean:2.07,up:3.22,lo:.93,m1:357,m2:700,c1:443,c2:613},eb:{c:1047,mean:3.77,up:6.0,lo:1.52,m1:876,m2:1220,c1:961,c2:1133}});
swarm({L:62,R:430,T:1143.3,B:1412,dom:[186,1290],a:negativePts,b:positivePts,ticks:lnTicks,names:["Negative","Positive"],barY:10.34,bar:[531,1047],
  ea:{c:531,mean:2.37,up:3.87,lo:.86,m1:360,m2:703,c1:446,c2:616},eb:{c:1048,mean:3.85,up:6.14,lo:1.58,m1:877,m2:1220,c1:963,c2:1135}});
const ylab={size:16.3,rotate:-90,anchor:"middle",color:"#111",stroke:.35};
label("Relative LINC00511 expression",403,840,ylab);
label("Relative LINC00511 expression",948,837,ylab);
label("Relative LINC00511 expression",20,1272,{...ylab,size:15.9});
label("***",646.7,695,{size:36,weight:"bold",anchor:"middle"});
label("***",1191,699,{size:36,weight:"bold",anchor:"middle"});
label("**",262.7,1128,{size:36,weight:"bold",anchor:"middle"});

// ========= G =========
panel({L:560.3,R:956.7,T:1133.3,B:1397,ml:60,mr:10,mt:8,mb:40,
  x:{domain:[0,60]},y:{domain:[0,1]},
  marks:[
    Plot.line(lowTime.map((t,i)=>[t,lowSurv[i]]),{x:vx,y:vy,curve:"step-after",stroke:PURPLE,strokeWidth:2.2,strokeDasharray:"9,6"}),
    Plot.line(highTime.map((t,i)=>[t,highSurv[i]]),{x:vx,y:vy,curve:"step-after",stroke:"#6b9bdc",strokeWidth:2.4}),
    Plot.ruleX([0],{stroke:"black",strokeWidth:3}),
    Plot.ruleY([0],{stroke:"black",strokeWidth:2.6}),
    Plot.axisX({ticks:[0,20,40,60],tickSize:6,tickPadding:7,fontSize:19,fontWeight:"bold",strokeWidth:2.4,label:null,color:"#111",tickFormat:d=>String(d)}),
    Plot.axisY({ticks:[0,.5,1],tickSize:6,tickPadding:1,fontSize:19.5,fontWeight:"bold",strokeWidth:2.4,label:null,color:"#111",tickFormat:d3.format(".1f")})
  ]});
label("Overall survival",512,1258,{size:18,weight:"bold",rotate:-90,anchor:"middle"});
label("Time (months)",759,1445,{size:18.7,weight:"bold",anchor:"middle"});
bar(786,1124,12,2.4,"#6b9bdc");label("High expression",805,1125,{size:19.2,color:"#222"});
bar(786,1149,7,2.4,PURPLE);label("Low expression",805,1150,{size:19.2,color:"#222"});

// ========= H =========
panel({L:1109,R:1358.3,T:1134.7,B:1383.7,ml:60,mr:10,mt:8,mb:40,
  x:{domain:[0,100]},y:{domain:[0,100]},
  marks:[
    Plot.line([[0,0],[100,100]],{x:vx,y:vy,stroke:"#6b9bdc",strokeWidth:2.4}),
    Plot.line(rocX.map((t,i)=>[t,rocY[i]]),{x:vx,y:vy,curve:"step-after",stroke:"#6b9bdc",strokeWidth:2.4}),
    Plot.frame({stroke:"black",strokeWidth:2.4}),
    Plot.axisX({ticks:[0,20,40,60,80,100],tickSize:5,tickPadding:2,fontSize:19,fontWeight:"bold",strokeWidth:2.2,label:null,color:"#111",tickFormat:d=>String(d)}),
    Plot.axisY({ticks:[0,20,40,60,80,100],tickSize:5,tickPadding:1,fontSize:19,fontWeight:"bold",strokeWidth:2.2,label:null,color:"#111",tickFormat:d=>String(d)})
  ]});
label("Sensitivity%",1060,1250,{size:19,weight:"bold",rotate:-90,anchor:"middle"});
label("100% - Specificity%",1234,1425,{size:18.6,weight:"bold",anchor:"middle"});

// ========= letters =========
[["(A)",5,19],["(B)",619,19],["(C)",3,648],["(D)",370,647],["(E)",921,648],["(F)",3,1098],["(G)",488,1098],["(H)",1029,1098]]
 .forEach(([t,x,y])=>label(t,x,y,{size:27,color:"#333"}));
</script></body></html>
